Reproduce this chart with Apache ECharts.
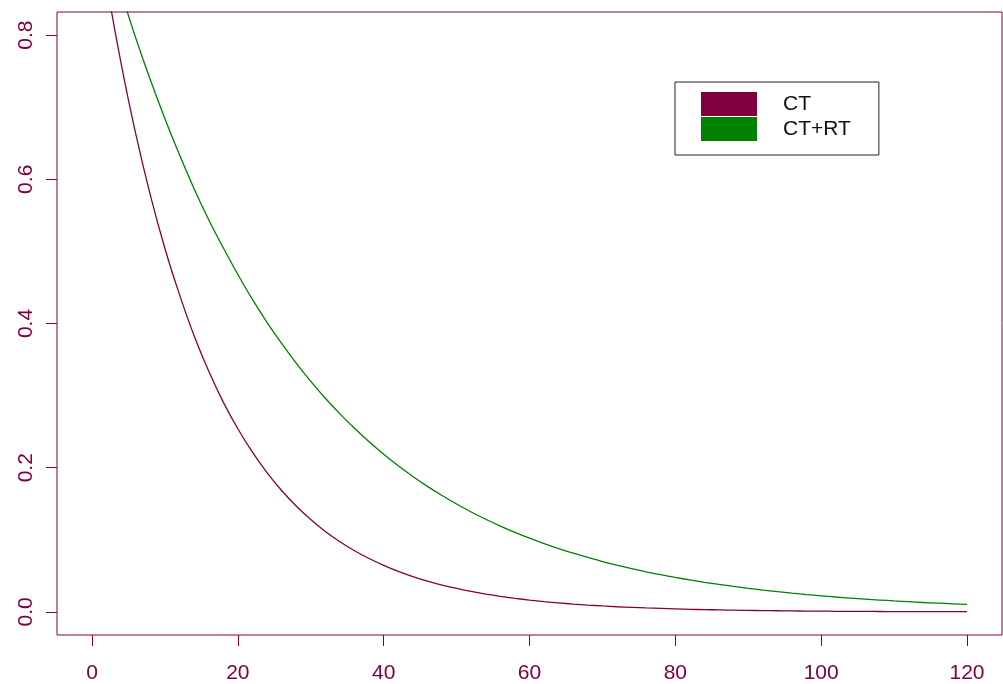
<!DOCTYPE html>
<html>
<head>
<meta charset="utf-8">
<script src="https://cdn.jsdelivr.net/npm/echarts@6/dist/echarts.min.js"></script>
<style>
html,body{margin:0;padding:0;background:#fff;}
#chart{width:1003px;height:684px;}
</style>
</head>
<body>
<div id="chart"></div>
<script>
// time points (x)
var xValues = [0,2,4,6,8,10,12,14,16,18,20,22,24,26,28,30,32,34,36,38,40,42,44,46,48,50,52,54,56,58,60,62,64,66,68,70,72,74,76,78,80,82,84,86,88,90,92,94,96,98,100,102,104,106,108,110,112,114,116,118,120];
// CT curve
var ctValues = [1.000,0.872,0.760,0.663,0.578,0.504,0.440,0.383,0.334,0.291,0.254,0.2215,0.1932,0.1684,0.1469,0.1281,0.1116,0.0974,0.0849,0.0741,0.0646,0.0563,0.0491,0.0428,0.0373,0.0326,0.0284,0.0248,0.0216,0.0188,0.0164,0.0143,0.0125,0.0109,0.0095,0.0083,0.0072,0.0063,0.0055,0.0048,0.0042,0.0036,0.0032,0.0028,0.0024,0.0021,0.0018,0.0016,0.0014,0.0012,0.0011,0.0009,0.0008,0.0007,0.0006,0.0005,0.0005,0.0004,0.0004,0.0003,0.0003];
// CT+RT curve
var ctrtValues = [1.000,0.927,0.859,0.796,0.738,0.684,0.634,0.587,0.544,0.505,0.468,0.4334,0.4017,0.3723,0.3451,0.3198,0.2964,0.2747,0.2546,0.2360,0.2187,0.2027,0.1879,0.1741,0.1614,0.1496,0.1386,0.1285,0.1191,0.1104,0.1023,0.0948,0.0879,0.0814,0.0755,0.0699,0.0648,0.0601,0.0557,0.0516,0.0478,0.0443,0.0411,0.0381,0.0353,0.0327,0.0303,0.0281,0.0260,0.0241,0.0224,0.0207,0.0192,0.0178,0.0165,0.0153,0.0142,0.0131,0.0122,0.0113,0.0105];
var xTicks = [0,20,40,60,80,100,120];
var yTicks = [0,0.2,0.4,0.6,0.8];
var seriesNames = ['CT','CT+RT'];

var maroon = '#800040';
var green = '#008000';
var FONT = '"Liberation Sans", Arial, sans-serif';
function pairs(xs, ys){ return xs.map(function(x,i){ return [x, ys[i]]; }); }

var chart = echarts.init(document.getElementById('chart'), null, {renderer:'canvas'});
chart.setOption({
  animation:false,
  backgroundColor:'#ffffff',
  textStyle:{fontFamily:FONT},
  grid:{left:57, right:1, top:12, bottom:48, show:true, borderColor:maroon, borderWidth:1, backgroundColor:'transparent'},
  legend:{
    orient:'vertical', left:675, top:82,
    data:seriesNames,
    icon:'rect', itemWidth:56, itemHeight:24, itemGap:1,
    padding:[10,28,14,26],
    borderColor:'#222', borderWidth:1, borderRadius:0,
    textStyle:{fontSize:21, color:'#111', padding:[0,0,0,21], fontFamily:FONT},
    selectedMode:false
  },
  xAxis:{
    type:'value', min:-4.8, max:124.8,
    axisLine:{show:false, onZero:false},
    splitLine:{show:false},
    axisTick:{show:true, customValues:xTicks, length:11, inside:false, lineStyle:{color:maroon, width:1}},
    axisLabel:{show:true, customValues:xTicks, color:maroon, fontSize:21, margin:28, fontFamily:FONT}
  },
  yAxis:{
    type:'value', min:-0.032, max:0.832,
    axisLine:{show:false, onZero:false},
    splitLine:{show:false},
    axisTick:{show:true, customValues:yTicks, length:11, inside:false, lineStyle:{color:maroon, width:1}},
    axisLabel:{show:true, customValues:yTicks, rotate:90, color:maroon, fontSize:21, margin:20,
      formatter:function(v){ return v.toFixed(1); }, fontFamily:FONT}
  },
  series:[
    {name:seriesNames[0], type:'line', data:pairs(xValues, ctValues), showSymbol:false, symbol:'none', clip:true,
     smooth:0.3, color:maroon, lineStyle:{color:maroon, width:1.3}},
    {name:seriesNames[1], type:'line', data:pairs(xValues, ctrtValues), showSymbol:false, symbol:'none', clip:true,
     smooth:0.3, color:green, lineStyle:{color:green, width:1.3}}
  ]
});
</script>
</body>
</html>
